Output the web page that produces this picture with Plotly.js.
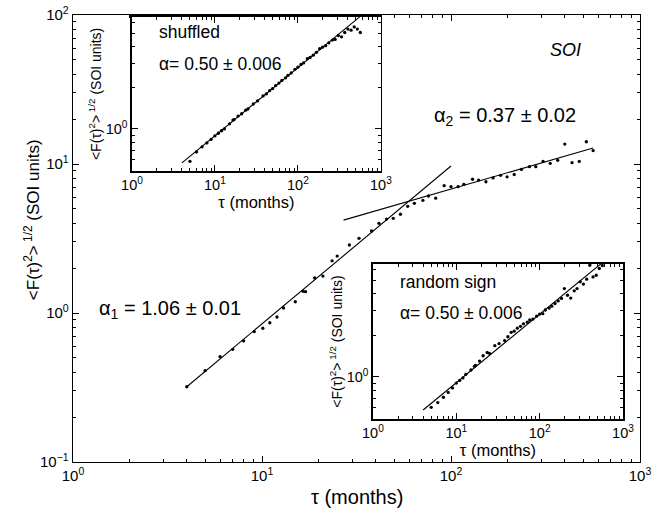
<!DOCTYPE html>
<html>
<head>
<meta charset="utf-8">
<script src="https://cdn.plot.ly/plotly-3.0.1.min.js"></script>
<style>html,body{margin:0;padding:0;background:#fff;}#chart{width:671px;height:514px;}</style>
</head>
<body>
<div id="chart"></div>
<script>
// ---- main SOI series ----
var soiTau = [4,5,6,7,8,9.1,10.1,11,12,13,15,16.5,17,19,21,23.5,25,29,32.6,38,41.6,45.6,49.5,54,59,64,71,76,83,92,100,109,117,130,140,153,167,183,198,216,236,260,281,307,335,367,400,437,477,520,565];
var soiF   = [0.32,0.41,0.51,0.57,0.65,0.75,0.79,0.86,0.94,1.08,1.19,1.40,1.39,1.72,1.77,2.24,2.41,2.86,3.17,3.55,4.0,4.27,4.32,4.6,5.2,5.45,5.7,6.1,5.9,7.15,7.04,7.04,7.3,7.9,7.8,7.6,8.06,8.4,8.2,8.5,9.2,9.6,9.6,10.4,10.1,10.6,13.6,10.2,10.4,14.1,12.3];
// fit lines (endpoints)
var fit1Tau = [4, 100];
var fit1F   = [0.32, 9.7];
var fit2Tau = [27, 565];
var fit2F   = [4.2, 12.8];

// ---- inset: shuffled ----
var shufTau = [5,6,7,8,9,10,11,12,13,15,16.5,17,19,21,23.5,25,29,32.6,38,41.6,45.6,49.5,54,59,64,71,76,83,92,100,109,117,130,140,153,167,183,198,216,236,260,281,307,335,367,400,437,477,520,565];
var shufF   = [0.58,0.68,0.74,0.79,0.84,0.89,0.93,0.97,1.0,1.09,1.16,1.17,1.24,1.29,1.37,1.40,1.52,1.60,1.74,1.80,1.90,1.97,2.07,2.16,2.26,2.36,2.46,2.56,2.72,2.82,2.95,3.03,3.25,3.32,3.45,3.62,3.85,3.95,4.05,4.25,4.45,4.50,4.80,4.70,5.05,5.35,5.25,5.55,5.35,5.05];
var shufFitTau = [4, 560];
var shufFitF   = [0.565, 6.6];

// ---- inset: random sign ----
var randTau = [5,6,7,8,9,10,11,12,13,15,16.5,17,19,21,23.5,25,29,32.6,38,41.6,45.6,49.5,54,59,64,71,76,83,92,100,109,117,130,140,153,167,183,198,216,236,260,281,307,335,367,400,437,477,520,565];
var randF   = [0.60,0.65,0.71,0.77,0.83,0.90,0.94,0.98,1.04,1.12,1.19,1.21,1.30,1.42,1.50,1.48,1.68,1.74,1.83,1.95,2.10,2.14,2.25,2.32,2.42,2.49,2.58,2.62,2.75,2.85,2.87,3.05,3.15,3.25,3.40,3.55,3.70,4.36,3.90,3.72,4.20,4.36,4.88,4.70,5.10,6.45,5.30,5.45,6.10,6.40];
var randFitTau = [4, 560];
var randFitF   = [0.574, 6.7];

// ---- tick labels ----
var xTickVals = [1,10,100,1000];
var xTickText = ['10<sup>0</sup>','10<sup>1</sup>','10<sup>2</sup>','10<sup>3</sup>'];
var yTickVals = [0.1,1,10,100];
var yTickText = ['10<sup>−1</sup>','10<sup>0</sup>','10<sup>1</sup>','10<sup>2</sup>'];
var insetYTickVals = [1];
var insetYTickText = ['10<sup>0</sup>'];

function minorVals(d0, d1){ var v=[]; for(var d=d0; d<d1; d++){ for(var m=2;m<=9;m++){ v.push(m*Math.pow(10,d)); } } return v; }

var FONT = 'Liberation Sans, Arial, Helvetica, sans-serif';
var yTitleText = '&lt;F(τ)<sup>2</sup>&gt;<sup> 1/2</sup> (SOI units)';

function pts(x,y,xa,ya){ return {x:x,y:y,xaxis:xa,yaxis:ya,type:'scatter',mode:'markers',marker:{color:'black',size:3.3},hoverinfo:'skip',showlegend:false}; }
function ln(x,y,xa,ya){ return {x:x,y:y,xaxis:xa,yaxis:ya,type:'scatter',mode:'lines',line:{color:'black',width:1.1},hoverinfo:'skip',showlegend:false}; }

var data = [
  ln(fit1Tau, fit1F, 'x','y'),
  ln(fit2Tau, fit2F, 'x','y'),
  pts(soiTau, soiF, 'x','y'),
  ln(shufFitTau, shufFitF, 'x2','y2'),
  pts(shufTau, shufF, 'x2','y2'),
  ln(randFitTau, randFitF, 'x3','y3'),
  pts(randTau, randF, 'x3','y3')
];

function xAx(domain, anchor, fs, title, titleSize, standoff, lw){
  return {type:'log', range:[0,3], domain:domain, anchor:anchor,
    showline:true, linecolor:'black', linewidth:lw, mirror:'allticks',
    ticks:'inside', ticklen:6, tickcolor:'black', tickwidth:1,
    tickmode:'array', tickvals:xTickVals, ticktext:xTickText,
    tickfont:{family:FONT,size:fs,color:'black'},
    minor:{tickmode:'array', tickvals:minorVals(0,3), ticks:'inside', ticklen:3, tickcolor:'black', showgrid:false},
    showgrid:false, zeroline:false,
    title:{text:title, font:{family:FONT,size:titleSize,color:'black'}, standoff:standoff}};
}
function yAx(domain, anchor, range, tv, tt, minor, fs, title, titleSize, standoff, lw){
  return {type:'log', range:range, domain:domain, anchor:anchor,
    showline:true, linecolor:'black', linewidth:lw, mirror:'allticks',
    ticks:'inside', ticklen:6, tickcolor:'black', tickwidth:1,
    tickmode:'array', tickvals:tv, ticktext:tt,
    tickfont:{family:FONT,size:fs,color:'black'},
    minor:{tickmode:'array', tickvals:minor, ticks:'inside', ticklen:3, tickcolor:'black', showgrid:false},
    showgrid:false, zeroline:false,
    title:{text:title, font:{family:FONT,size:titleSize,color:'black'}, standoff:standoff}};
}

var insetMinor = [0.5,0.6,0.7,0.8,0.9,2,3,4,5,6];

function ann(text, x, y, size, xanchor, angle){
  return {text:text, xref:'paper', yref:'paper', x:x, y:y, xanchor:xanchor||'center', yanchor:'middle',
    textangle:angle||0, showarrow:false, font:{family:FONT,size:size,color:'black'}};
}

var layout = {
  width:671, height:514,
  margin:{l:73, r:31, t:15, b:52},
  paper_bgcolor:'white', plot_bgcolor:'white',
  font:{family:FONT, color:'black'},
  showlegend:false,
  xaxis: xAx([0,1], 'y', 15, '', 18, 8, 1.3),
  yaxis: yAx([0,1], 'x', [-1,2], yTickVals, yTickText, minorVals(-1,2), 15, '', 18, 4, 1.3),
  xaxis2: xAx([0.104,0.543], 'y2', 14.5, 'τ (months)', 16.5, 3, 1.6),
  yaxis2: yAx([0.651,0.996], 'x2', [-0.307,0.818], insetYTickVals, insetYTickText, insetMinor, 14.5, yTitleText, 14, 1, 1.6),
  xaxis3: xAx([0.529,0.970], 'y3', 14.5, 'τ (months)', 16.5, 3, 1.6),
  yaxis3: yAx([0.096,0.443], 'x3', [-0.307,0.818], insetYTickVals, insetYTickText, insetMinor, 14.5, yTitleText, 14, 1, 1.6),
  annotations: [
    ann(yTitleText, -0.0723, 0.541, 17, 'center', -90),
    ann('τ (months)', 0.5, -0.078, 20, 'center'),
    ann('α<sub>1</sub> = 1.06 ± 0.01', 0.171, 0.342, 20, 'center'),
    ann('α<sub>2</sub> = 0.37 ± 0.02', 0.762, 0.773, 20, 'center'),
    ann('<i>SOI</i>', 0.868, 0.922, 18, 'center'),
    ann('shuffled', 0.148, 0.962, 17.5, 'left'),
    ann('α= 0.50 ± 0.006', 0.148, 0.891, 17.5, 'left'),
    ann('random sign', 0.573, 0.403, 17.5, 'left'),
    ann('α= 0.50 ± 0.006', 0.573, 0.333, 17.5, 'left')
  ]
};

Plotly.newPlot('chart', data, layout, {displayModeBar:false, staticPlot:true});
</script>
</body>
</html>
